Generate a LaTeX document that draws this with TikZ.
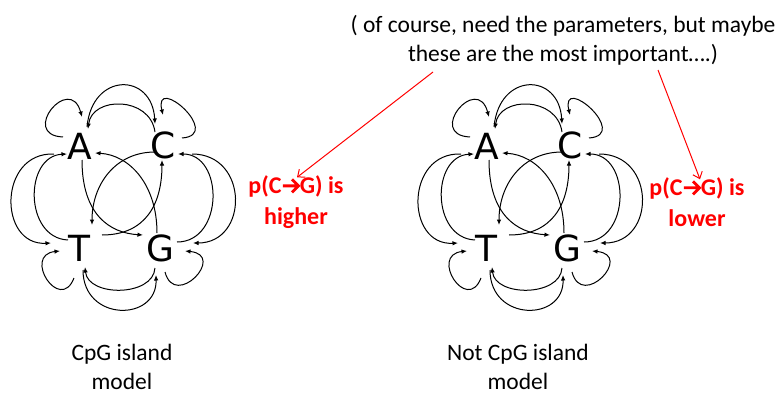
\documentclass[tikz,border=0pt]{standalone}
\usepackage{fontspec}
\setmainfont{Carlito}
\newfontfamily\dejavu{DejaVu Sans}
\usetikzlibrary{arrows.meta}
\newcommand\thickarrow{\tikz[baseline=0pt]\draw[line width=2.8pt,red,line join=miter] (0.5pt,7.5pt) -- (15pt,7.5pt) (9.5pt,14pt) -- (16pt,7.5pt) -- (9.5pt,1pt);}
\newcommand\markovchain{%
\node[letter] (A) at (80,146) {A};
\node[letter] (C) at (163,145) {C};
\node[letter] (T) at (79,248) {T};
\node[letter] (G) at (160,248) {G};
% self loops
\draw[arc] ([shift={(-17,-9)}]A.center) .. controls +(-44,-2) and +(-12,-44) .. ([shift={(2,-29)}]A.center);
\draw[arc] ([shift={(19,-7)}]C.center) .. controls +(42,-3) and +(-10,-42) .. ([shift={(0,-30)}]C.center);
\draw[arc] ([shift={(-5,30)}]T.center) .. controls +(-14,36) and +(-38,4) .. ([shift={(-19,3)}]T.center);
\draw[arc] ([shift={(5,24)}]G.center) .. controls +(10,38) and +(42,4) .. ([shift={(25,3)}]G.center);
% top
\draw[arc] ([shift={(7,-19)}]A.center) .. controls +(5,-55) and +(-3,-52) .. ([shift={(-8,-21)}]C.center);
\draw[arc] ([shift={(-8,-13)}]C.center) .. controls +(-5,-36) and +(4,-33) .. ([shift={(8,-17)}]A.center);
% left
\draw[arc] ([shift={(-26,8)}]A.center) .. controls +(-56,-2) and +(-53,3) .. ([shift={(-28,-5)}]T.center);
\draw[arc] ([shift={(-11,-8)}]T.center) .. controls +(-44,-2) and +(-43,2) .. ([shift={(-13,8)}]A.center);
% right
\draw[arc] ([shift={(29,9)}]C.center) .. controls +(57,0) and +(56,0) .. ([shift={(33,-5)}]G.center);
\draw[arc] ([shift={(17,-6)}]G.center) .. controls +(47,0) and +(46,0) .. ([shift={(15,9)}]C.center);
% bottom
\draw[arc] ([shift={(-5,20)}]G.center) .. controls +(-2,29) and +(3,30) .. ([shift={(6,19)}]T.center);
\draw[arc] ([shift={(4,22)}]T.center) .. controls +(0,52) and +(1,47) .. ([shift={(-4,27)}]G.center);
% diagonals
\draw[arc] ([shift={(2,14)}]A.center) .. controls +(0,55) and +(-33,-2) .. ([shift={(-17,-13)}]G.center);
\draw[arc] ([shift={(-3,-15)}]G.center) .. controls +(0,-48) and +(35,2) .. ([shift={(15,7)}]A.center);
\draw[arc] ([shift={(-8,7)}]C.center) .. controls +(-40,0) and +(0,-40) .. ([shift={(13,-23)}]T.center);
\draw[arc] ([shift={(23,-13)}]T.center) .. controls +(43,0) and +(0,45) .. ([shift={(-1,15)}]C.center);
}
\begin{document}
\begin{tikzpicture}[x=1pt,y=-1pt,
  letter/.style={font=\dejavu\fontsize{36}{36}\selectfont,inner sep=0pt,text height=26pt,text depth=0pt},
  arc/.style={draw,line width=1pt,-{Latex[length=5.5pt,width=4.5pt]}},
  note/.style={font=\fontsize{23.5}{29}\selectfont,align=center,inner sep=0pt},
  caption/.style={font=\fontsize{23.5}{29}\selectfont,align=center,inner sep=0pt},
  redtext/.style={font=\bfseries\fontsize{24}{31}\selectfont,text=red,align=center,inner sep=0pt},
  redarrow/.style={draw=red,line width=1pt,-{Straight Barb[length=6pt,width=10pt]}}]
\path[use as bounding box] (0,0) rectangle (782,396);
\begin{scope}[name prefix=l-]
\markovchain
\end{scope}
\begin{scope}[name prefix=r-,xshift=407pt]
\markovchain
\end{scope}
\node[note] (top) at (563,40) {( of course, need the parameters, but maybe\\these are the most important….)};
\node[redtext] (hi) at (296,202) {p(C\thickarrow G) is\\higher};
\node[redtext] (lo) at (697,202) {p(C\thickarrow G) is\\lower};
\node[caption] (cl) at (122,367) {CpG island\\model};
\node[caption] (cr) at (518,367) {Not CpG island\\model};
\coordinate (t1) at (433,72);
\coordinate (t2) at (658,70);
\draw[redarrow] (t1) -- ([xshift=1pt,yshift=-2pt]hi.north);
\draw[redarrow] (t2) -- ([xshift=3pt,yshift=-2pt]lo.north);
\end{tikzpicture}
\end{document}
